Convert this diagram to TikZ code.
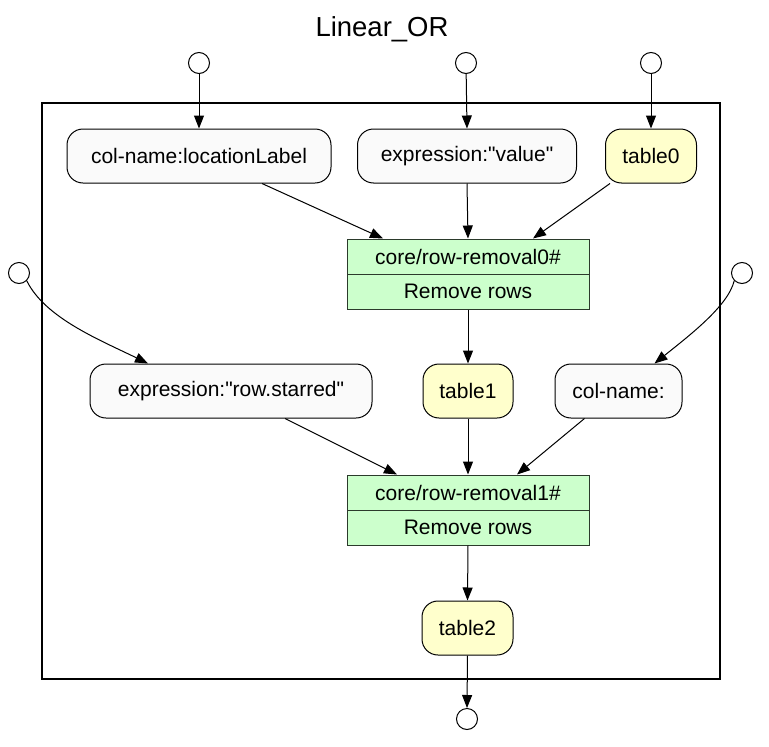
\documentclass[tikz,border=0pt]{standalone}
\usepackage{fontspec}
\setmainfont{Liberation Sans}[Ligatures=TeXOff]
\usetikzlibrary{arrows.meta}
\definecolor{nodegray}{HTML}{FAFAFA}
\definecolor{tabyellow}{HTML}{FFFFCC}
\definecolor{opgreen}{HTML}{CCFFCC}
\definecolor{opborder}{HTML}{2B3A2B}
\tikzset{
  base/.style={draw=black, line width=1pt, font=\fontsize{21}{24}\selectfont, inner sep=0pt, minimum height=54pt},
  valbox/.style={base, rounded corners=16pt, fill=nodegray},
  tabbox/.style={base, rounded corners=16pt, fill=tabyellow},
  opbox/.style={draw=opborder, line width=1pt, fill=opgreen, font=\fontsize{21}{24}\selectfont, inner sep=0pt, minimum width=242pt, minimum height=35pt},
  port/.style={draw=black, line width=1pt, circle, minimum size=21pt, inner sep=0pt, fill=white},
  edge/.style={line width=1pt, -{Triangle[length=13pt,width=10pt]}},
  cluster/.style={draw=black, line width=2.5pt}
}
\begin{document}
\begin{tikzpicture}[x=1pt,y=-1pt]
\useasboundingbox (0,0) rectangle (769,747);
\node[font=\fontsize{27.5}{32}\selectfont] (title) at (382,29) {Linear\_OR};
\draw[cluster] (42,103) rectangle (720,679);
% ports
\node[port] (p1) at (199,63) {};
\node[port] (p2) at (466,63) {};
\node[port] (p3) at (651,63) {};
\node[port] (p4) at (19,273) {};
\node[port] (p5) at (742,273) {};
\node[port] (p6) at (467,719) {};
% row 1
\node[valbox, minimum width=264pt] (cl) at (199,156) {col-name:locationLabel};
\node[valbox, minimum width=219pt] (ev) at (467,156) {expression:"value"};
\node[tabbox, minimum width=91pt] (t0) at (651,156) {table0};
% op 0
\node[opbox] (rr0) at (468,256.5) {core/row-removal0\#};
\node[opbox] (rr0b) at (468,291.5) {Remove rows};
% row 2
\node[valbox, minimum width=282pt] (er) at (231,391) {expression:"row.starred"};
\node[tabbox, minimum width=90pt] (t1) at (468,391) {table1};
\node[valbox, minimum width=127pt] (cn) at (618.5,391) {col-name:};
% op 1
\node[opbox] (rr1) at (468,492.5) {core/row-removal1\#};
\node[opbox] (rr1b) at (468,527.5) {Remove rows};
% table2
\node[tabbox, minimum width=91pt] (t2) at (467.5,628) {table2};
% edges
\draw[edge] (p1) -- (cl.north);
\draw[edge] (p2) -- (ev.north);
\draw[edge] (p3) -- (t0.north);
\draw[edge] ([xshift=63pt]cl.south) -- ([xshift=-85pt]rr0.north);
\draw[edge] (ev.south) -- (rr0.north);
\draw[edge] ([xshift=-41pt]t0.south) -- ([xshift=65pt]rr0.north);
\draw[edge] (rr0b.south) -- (t1.north);
\draw[edge] (p4.south east) .. controls (45,318) and (100,340) .. ([xshift=-83pt]er.north);
\draw[edge] (p5.south west) .. controls (728,306) and (690,335) .. ([xshift=36pt]cn.north);
\draw[edge] ([xshift=54pt]er.south) -- ([xshift=-71pt]rr1.north);
\draw[edge] (t1.south) -- (rr1.north);
\draw[edge] ([xshift=-34pt]cn.south) -- ([xshift=49pt]rr1.north);
\draw[edge] (rr1b.south) -- (t2.north);
\draw[edge] (t2.south) -- (p6.north);
\end{tikzpicture}
\end{document}
